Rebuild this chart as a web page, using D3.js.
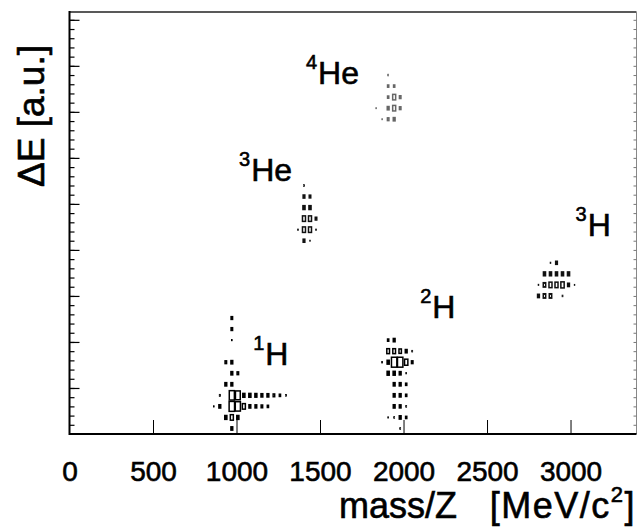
<!DOCTYPE html>
<html>
<head>
<meta charset="utf-8">
<script src="https://cdn.jsdelivr.net/npm/d3@7"></script>
<style>
  html, body { margin: 0; padding: 0; background: #fff; }
  svg { display: block; }
  text { font-family: "Liberation Sans", Arial, Helvetica, sans-serif; fill: #000; stroke: #000; stroke-width: 0.6px; }
</style>
</head>
<body>
<svg id="chart" width="638" height="527"></svg>
<script>
// ---------------- data ----------------
// axes
const xDomain = [0, 3395];          // mass/Z [MeV/c^2]
const yDomain = [0, 917];           // ΔE [a.u.]
const xTickValues = [0, 500, 1000, 1500, 2000, 2500, 3000];
const xTickLabels = ["0", "500", "1000", "1500", "2000", "2500", "3000"];
const yMajorTicks = [100, 200, 300, 400, 500, 600, 700, 800, 900];
const yMinorTicks = d3.range(20, 917, 20);
const binWidthX = 36;   // MeV/c^2 per bin
const binWidthY = 24;   // a.u. per bin
const maxCount = 100;

// histogram cells: [mass/Z bin centre, ΔE bin centre, content]
const cellsH1 = [
  [972,252,25],[972,228,25],[972,204,12],
  [936,156,25],[972,156,30],
  [972,132,30],[1008,132,25],
  [936,108,30],[972,108,30],
  [900,84,18],[972,84,85],[1008,84,80],[1044,84,35],[1080,84,35],[1116,84,33],[1152,84,30],[1188,84,30],[1224,84,25],[1260,84,20],[1296,84,15],
  [864,60,12],[900,60,30],[972,60,90],[1008,60,85],[1044,60,50],[1080,60,30],[1116,60,28],[1152,60,25],[1188,60,20],
  [936,36,35],[972,36,50],[1008,36,35],
  [972,12,30]
];
const cellsH2 = [
  [1908,204,20],[1944,204,30],
  [1908,180,45],[1944,180,45],[1980,180,40],[2016,180,30],[2052,180,15],
  [1872,156,15],[1908,156,35],[1944,156,90],[1980,156,90],[2016,156,55],[2052,156,25],
  [1908,132,35],[1944,132,35],[1980,132,30],[2016,132,12],
  [1944,108,30],[1980,108,30],[2016,108,20],
  [1944,84,30],[1980,84,30],[2016,84,20],
  [1944,60,30],[1980,60,28],[2016,60,15],
  [1908,36,12],[1944,36,15],[1980,36,30],[2016,36,20],
  [1980,12,15]
];
const cellsH3 = [
  [2880,372,12],[2916,372,28],
  [2844,348,35],[2880,348,35],[2916,348,35],[2952,348,35],[2988,348,35],
  [2808,324,12],[2844,324,40],[2880,324,50],[2916,324,50],[2952,324,55],[2988,324,30],[3024,324,10],
  [2808,300,30],[2844,300,40],[2880,300,40],[2952,300,15]
];
const cellsHe3 = [
  [1404,540,15],
  [1404,516,28],[1440,516,25],
  [1404,492,35],[1440,492,35],
  [1404,468,50],[1440,468,50],[1476,468,25],
  [1368,444,12],[1404,444,50],[1440,444,50],[1476,444,12],
  [1404,420,28],[1440,420,10]
];
const cellsHe4 = [
  [1908,780,15],
  [1908,756,20],[1944,756,20],
  [1908,732,20],[1944,732,50],[1980,732,25],
  [1836,708,10],[1908,708,30],[1944,708,50],[1980,708,25],
  [1872,684,10],[1908,684,25],[1944,684,30]
];
// particle labels: [mass number, element, x (MeV/c^2), y (a.u.)]
const particleLabels = [
  ["1", "H", 1100, 150],
  ["2", "H", 2100, 252],
  ["3", "H", 3030, 430],
  ["3", "He", 1015, 550],
  ["4", "He", 1416, 760]
];
const xTitleLeft = "mass/Z";
const xTitleRight = ["[MeV/c", "2", "]"];
const yTitle = "ΔE [a.u.]";

// ---------------- chart ----------------
const svg = d3.select("#chart");
const plot = { left: 69.5, right: 636.5, top: 12, bottom: 434 };

const x = d3.scaleLinear().domain(xDomain).range([plot.left, plot.right]);
const y = d3.scaleLinear().domain(yDomain).range([plot.bottom, plot.top]);
const frac = d3.scaleLinear().domain([0, maxCount]).range([0, 1]);

// cells
const groups = [
  { cells: cellsH1, color: "#000" },
  { cells: cellsH2, color: "#000" },
  { cells: cellsH3, color: "#111" },
  { cells: cellsHe3, color: "#111" },
  { cells: cellsHe4, color: "#666" }
];
const bw = x(binWidthX) - x(0);
const bh = y(0) - y(binWidthY);
groups.forEach(g => {
  svg.append("g").selectAll("rect").data(g.cells).join("rect")
    .attr("x", d => x(d[0]) - bw * frac(d[2]) / 2)
    .attr("y", d => y(d[1]) - bh * frac(d[2]) / 2)
    .attr("width", d => bw * frac(d[2]))
    .attr("height", d => bh * frac(d[2]))
    .attr("fill", d => frac(d[2]) < 0.4 ? g.color : "none")
    .attr("stroke", g.color)
    .attr("stroke-width", d => frac(d[2]) < 0.2 ? 0.8 : 1.5);
});

// frame: top and right (lighter)
svg.append("line").attr("x1", plot.left).attr("x2", plot.right).attr("y1", plot.top).attr("y2", plot.top)
  .attr("stroke", "#222").attr("stroke-width", 1.5);
svg.append("line").attr("x1", plot.right).attr("x2", plot.right).attr("y1", plot.top).attr("y2", plot.bottom)
  .attr("stroke", "#888").attr("stroke-width", 1);

// right axis ticks (inward)
const rightMinor = d3.axisRight(y).tickValues(yMinorTicks).tickSize(-3).tickFormat("");
const rAx = svg.append("g").attr("transform", `translate(${plot.right},0)`).call(rightMinor);
rAx.select(".domain").remove();
rAx.selectAll("line").attr("stroke", "#777");

// left axis: minor and major ticks inward
const leftMinor = d3.axisLeft(y).tickValues(yMinorTicks).tickSize(-5).tickFormat("");
const lMin = svg.append("g").attr("transform", `translate(${plot.left},0)`).call(leftMinor);
lMin.select(".domain").remove();
lMin.selectAll("line").attr("stroke", "#000").attr("stroke-width", 1.2);
const leftMajor = d3.axisLeft(y).tickValues(yMajorTicks).tickSize(-10).tickFormat("");
const lMaj = svg.append("g").attr("transform", `translate(${plot.left},0)`).call(leftMajor);
lMaj.select(".domain").remove();
lMaj.selectAll("line").attr("stroke", "#000").attr("stroke-width", 1.2);

// bottom axis: major ticks inward + labels
const bottom = d3.axisBottom(x).tickValues(xTickValues)
  .tickFormat((d, i) => xTickLabels[i]).tickSizeInner(-14).tickSizeOuter(0);
const bAx = svg.append("g").attr("transform", `translate(0,${plot.bottom})`).call(bottom);
bAx.select(".domain").remove();
bAx.selectAll(".tick line").attr("stroke", "#000").attr("stroke-width", 1)
  .filter(d => d === 0).remove();
bAx.selectAll(".tick text").attr("y", 47).attr("dy", 0)
  .style("font-family", '"Liberation Sans", Arial, sans-serif')
  .style("font-size", "28px").attr("fill", "#000").attr("stroke", "#000").attr("stroke-width", 0.5);

// left and bottom frame lines
svg.append("line").attr("x1", plot.left).attr("x2", plot.left).attr("y1", plot.top - 1).attr("y2", plot.bottom + 1)
  .attr("stroke", "#000").attr("stroke-width", 2);
svg.append("line").attr("x1", plot.left).attr("x2", plot.right).attr("y1", plot.bottom).attr("y2", plot.bottom)
  .attr("stroke", "#000").attr("stroke-width", 2);

// particle labels
particleLabels.forEach(p => {
  const t = svg.append("text").attr("x", x(p[2])).attr("y", y(p[3]));
  t.append("tspan").text(p[0]).style("font-size", "20px").attr("dy", -15);
  t.append("tspan").text(p[1]).style("font-size", "32px").attr("dy", 15).attr("dx", 1);
});

// axis titles
svg.append("text").attr("x", 457).attr("y", 518).attr("text-anchor", "end")
  .style("font-size", "36px").text(xTitleLeft);
const xt = svg.append("text").attr("x", 636).attr("y", 518).attr("text-anchor", "end")
  .style("font-size", "36px").style("letter-spacing", "1.5px");
xt.append("tspan").text(xTitleRight[0]);
xt.append("tspan").text(xTitleRight[1]).style("font-size", "22px").attr("dy", -16);
xt.append("tspan").text(xTitleRight[2]).attr("dy", 16);

svg.append("text").attr("transform", "translate(44,187) rotate(-90)")
  .style("font-size", "37px").text(yTitle);
</script>
</body>
</html>
